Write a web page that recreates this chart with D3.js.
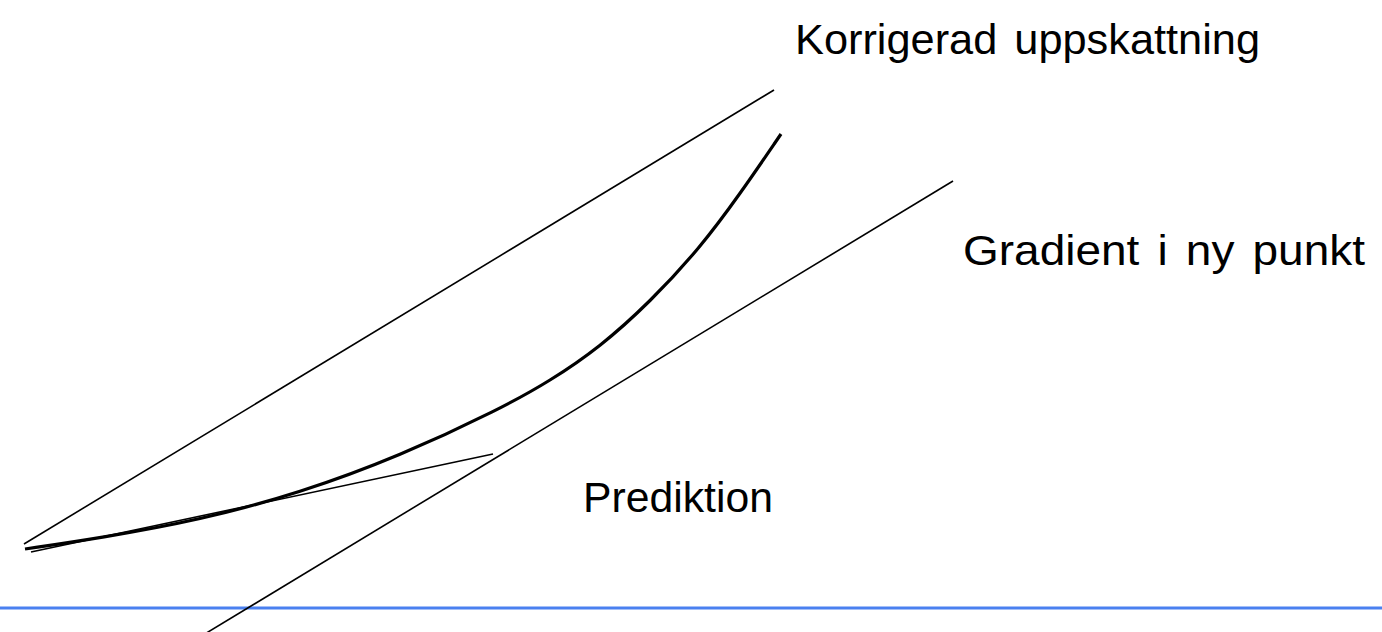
<!DOCTYPE html>
<html>
<head>
<meta charset="utf-8">
<script src="https://cdn.jsdelivr.net/npm/d3@7"></script>
<style>
  body { margin: 0; background: #fff; }
  svg { display: block; }
  .label { font-family: "Liberation Sans", Arial, sans-serif; font-size: 43px; word-spacing: 5px; fill: #000; }
</style>
</head>
<body>
<div id="wrapper"></div>
<script>
// curve (thick)
const curveX = [0.25, 1.00, 2.00, 3.00, 4.00, 5.00, 5.50, 6.00, 6.50, 7.00, 7.40, 7.81]
const curveY = [0.83, 0.94, 1.12, 1.39, 1.76, 2.23, 2.51, 2.85, 3.30, 3.84, 4.38, 4.98]

// straight lines: start and end points
const lineNames = ["prediktion", "korrigerad", "gradient"]
const lineStarts = [[0.31, 0.80], [0.24, 0.88], [1.80, -0.17]]
const lineEnds = [[4.93, 1.78], [7.74, 5.42], [9.53, 4.51]]

const baselineY = 0.24

const labelTexts = ["Korrigerad uppskattning", "Gradient i ny punkt", "Prediktion"]
const labelX = [7.95, 9.63, 5.83]
const labelY = [5.78, 3.67, 1.20]
const labelWidths = [465, 402, 190]

function drawChart() {
  const dimensions = { width: 1382, height: 632 }

  const xScale = d3.scaleLinear()
    .domain([0, 13.82])
    .range([0, dimensions.width])

  const yScale = d3.scaleLinear()
    .domain([0, 6.32])
    .range([dimensions.height, 0])

  const wrapper = d3.select("#wrapper")
    .append("svg")
    .attr("width", dimensions.width)
    .attr("height", dimensions.height)

  // blue ground line
  wrapper.append("line")
    .attr("x1", xScale(0))
    .attr("x2", xScale(13.82))
    .attr("y1", yScale(baselineY))
    .attr("y2", yScale(baselineY))
    .attr("stroke", "#4a80f0")
    .attr("stroke-width", 3)

  const lines = lineNames.map((name, i) => ({
    name,
    start: lineStarts[i],
    end: lineEnds[i],
  }))

  wrapper.selectAll(".straight")
    .data(lines)
    .enter().append("line")
    .attr("class", "straight")
    .attr("x1", d => xScale(d.start[0]))
    .attr("y1", d => yScale(d.start[1]))
    .attr("x2", d => xScale(d.end[0]))
    .attr("y2", d => yScale(d.end[1]))
    .attr("stroke", "#000")
    .attr("stroke-width", 1.6)

  const curveData = curveX.map((x, i) => [x, curveY[i]])
  const lineGenerator = d3.line()
    .x(d => xScale(d[0]))
    .y(d => yScale(d[1]))
    .curve(d3.curveBasis)

  wrapper.append("path")
    .attr("d", lineGenerator(curveData))
    .attr("fill", "none")
    .attr("stroke", "#000")
    .attr("stroke-width", 3.2)

  wrapper.selectAll(".label")
    .data(labelTexts)
    .enter().append("text")
    .attr("class", "label")
    .attr("x", (d, i) => xScale(labelX[i]))
    .attr("y", (d, i) => yScale(labelY[i]))
    .attr("textLength", (d, i) => labelWidths[i])
    .attr("lengthAdjust", "spacingAndGlyphs")
    .text(d => d)
}

drawChart()
</script>
</body>
</html>
